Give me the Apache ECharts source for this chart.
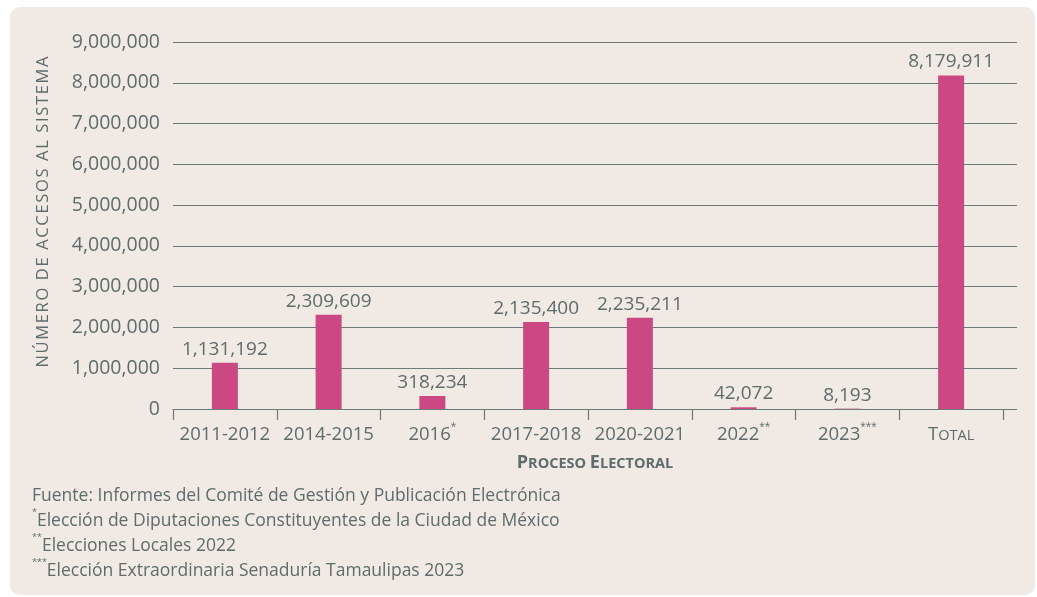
<!DOCTYPE html>
<html>
<head>
<meta charset="utf-8">
<script src="https://cdn.jsdelivr.net/npm/echarts@6/dist/echarts.min.js"></script>
<style>
  html, body { margin: 0; padding: 0; background: #ffffff; }
  #chart { width: 1037px; height: 597px; }
</style>
</head>
<body>
<div id="chart"></div>
<script>
// Electoral processes and system accesses
const categories = ['2011-2012', '2014-2015', '2016*', '2017-2018', '2020-2021', '2022**', '2023***', 'TOTAL'];
const accesses = [1131192, 2309609, 318234, 2135400, 2235211, 42072, 8193, 8179911];
const yTicks = { min: 0, max: 9000000, interval: 1000000 };
const yTitle = 'NÚMERO DE ACCESOS AL SISTEMA';
const footnotes = [
  ['', 'Fuente: Informes del Comité de Gestión y Publicación Electrónica'],
  ['*', 'Elección de Diputaciones Constituyentes de la Ciudad de México'],
  ['**', 'Elecciones Locales 2022'],
  ['***', 'Elección Extraordinaria Senaduría Tamaulipas 2023']
];

const FONT = '"Open Sans", "Noto Sans", sans-serif';
const TEXT = '#5f6c6c';
const LINE = '#6d7a7a';
const BAR = '#cc4882';

const fmt = v => v.toLocaleString('en-US');
// widen tracking with hair spaces between letters
const track = s => s.split('').join('\u200A');

// category label: split trailing asterisks into a superscript, small caps for TOTAL
function catLabel(value) {
  const m = value.match(/^(.*?)(\*+)$/);
  if (m) return '{n|' + m[1] + '}{s|' + m[2] + '}';
  if (value === 'TOTAL') return '{c1|T}{c2|OTAL}';
  return '{n|' + value + '}';
}

const chart = echarts.init(document.getElementById('chart'), null, { renderer: 'canvas' });

const option = {
  backgroundColor: '#ffffff',
  animation: false,
  textStyle: { fontFamily: FONT },
  grid: [
    { left: 173, right: 20, top: 42, bottom: 188, containLabel: false },
    { left: 173, width: 830, top: 42, bottom: 188, containLabel: false }
  ],
  xAxis: [
    { gridIndex: 0, type: 'value', show: false, min: 0, max: 1 },
    {
      gridIndex: 1,
      type: 'category',
      data: categories,
      axisLine: { show: true, lineStyle: { color: LINE, width: 1.2 } },
      axisTick: { show: true, length: 11, lineStyle: { color: LINE, width: 1.2 } },
      axisLabel: {
        interval: 0,
        margin: 13,
        color: TEXT,
        fontFamily: FONT,
        fontSize: 18.5,
        formatter: catLabel,
        rich: {
          n: { fontSize: 18.5, color: TEXT, fontFamily: FONT, lineHeight: 22, verticalAlign: 'bottom' },
          s: { fontSize: 10, color: TEXT, fontFamily: FONT, lineHeight: 22, verticalAlign: 'top' },
          c1: { fontSize: 18.5, color: TEXT, fontFamily: FONT, lineHeight: 22, verticalAlign: 'bottom' },
          c2: { fontSize: 14.5, color: TEXT, fontFamily: FONT, lineHeight: 22, verticalAlign: 'bottom', padding: [0, 0, 1, 0] }
        }
      }
    }
  ],
  yAxis: [
    {
      gridIndex: 0,
      type: 'value',
      min: yTicks.min,
      max: yTicks.max,
      interval: yTicks.interval,
      axisLine: { show: false },
      axisTick: { show: false },
      splitLine: { show: true, lineStyle: { color: LINE, width: 1.2 } },
      axisLabel: {
        margin: 13,
        color: TEXT,
        fontFamily: FONT,
        fontSize: 19.5,
        formatter: v => fmt(v)
      }
    },
    {
      gridIndex: 1,
      type: 'value',
      min: yTicks.min,
      max: yTicks.max,
      interval: yTicks.interval,
      show: false
    }
  ],
  series: [
    {
      type: 'bar',
      xAxisIndex: 1,
      yAxisIndex: 1,
      data: accesses,
      barWidth: 26,
      itemStyle: { color: BAR },
      label: {
        show: true,
        position: 'top',
        distance: 4,
        color: TEXT,
        fontFamily: FONT,
        fontSize: 19,
        formatter: p => fmt(p.value)
      }
    }
  ],
  graphic: [
    {
      type: 'rect',
      z: -10,
      shape: { x: 10, y: 7, width: 1025, height: 588, r: 10 },
      style: { fill: '#f0e9e4' }
    },
    {
      type: 'text',
      x: 43,
      y: 212,
      rotation: Math.PI / 2,
      style: {
        text: track(yTitle),
        fill: TEXT,
        font: '16.5px ' + FONT,
        align: 'center',
        verticalAlign: 'middle'
      }
    },
    {
      type: 'text',
      x: 595,
      y: 462,
      style: {
        text: '{a|P}{b|ROCESO }{a|E}{b|LECTORAL}',
        align: 'center',
        verticalAlign: 'middle',
        rich: {
          a: { fontSize: 18, fontWeight: 'bold', fill: TEXT, fontFamily: FONT, lineHeight: 20, verticalAlign: 'bottom' },
          b: { fontSize: 14.5, fontWeight: 'bold', fill: TEXT, fontFamily: FONT, lineHeight: 20, verticalAlign: 'bottom', padding: [0, 0, 1, 0] }
        }
      }
    },
    ...footnotes.map((f, i) => ({
      type: 'text',
      x: 32,
      y: 494 + i * 25,
      style: {
        text: (f[0] ? '{s|' + f[0] + '}' : '') + '{n|' + f[1] + '}',
        align: 'left',
        verticalAlign: 'middle',
        rich: {
          n: { fontSize: 17.5, fill: TEXT, fontFamily: FONT, lineHeight: 22, verticalAlign: 'bottom' },
          s: { fontSize: 9, fill: TEXT, fontFamily: FONT, lineHeight: 22, verticalAlign: 'top' }
        }
      }
    }))
  ]
};

chart.setOption(option);
</script>
</body>
</html>
